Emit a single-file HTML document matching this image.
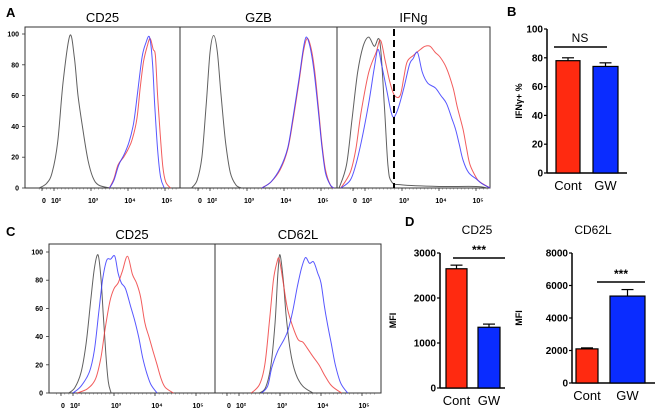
<!DOCTYPE html>
<html><head><meta charset="utf-8"><style>
body{margin:0;background:#fff;}
svg{display:block;font-family:"Liberation Sans",Arial,sans-serif;}
</style></head><body>
<svg id="fig" width="660" height="413" viewBox="0 0 660 413"></svg>
<script>
// ---- Histogram data: [log10 intensity, % of max] ----
const a1Black=[[1.6,0],[1.8,3],[1.95,10],[2.1,30],[2.25,70],[2.43,99],[2.55,85],[2.65,60],[2.78,38],[2.92,18],[3.05,7],[3.2,2],[3.5,0]];
const a1Red=[[3.5,0],[3.62,6],[3.73,15],[3.88,20],[4.0,25],[4.12,32],[4.24,45],[4.33,65],[4.42,82],[4.52,92],[4.6,97],[4.68,90],[4.74,86],[4.8,60],[4.87,35],[4.94,14],[5.02,4],[5.15,0]];
const a1Blue=[[3.5,0],[3.62,5],[3.75,15],[3.9,22],[4.03,30],[4.15,42],[4.26,62],[4.38,85],[4.48,94],[4.58,98],[4.66,82],[4.72,55],[4.8,25],[4.88,7],[4.98,0]];
const a2Black=[[1.5,0],[1.65,5],[1.78,20],[1.9,55],[2.0,88],[2.1,99],[2.2,88],[2.3,60],[2.42,30],[2.55,10],[2.7,2],[2.85,0]];
const a2Red=[[3.4,0],[3.65,4],[3.9,12],[4.1,25],[4.25,45],[4.4,68],[4.52,88],[4.62,97],[4.72,92],[4.82,78],[4.92,55],[5.02,30],[5.12,12],[5.25,2],[5.35,0]];
const a2Blue=[[3.4,0],[3.65,4],[3.9,13],[4.1,26],[4.25,47],[4.4,70],[4.52,90],[4.6,98],[4.7,92],[4.8,78],[4.92,52],[5.02,28],[5.12,10],[5.25,2],[5.35,0]];
const a3Black=[[1.3,0],[1.5,15],[1.65,45],[1.8,75],[1.95,92],[2.1,98],[2.25,92],[2.4,95],[2.52,55],[2.62,15],[2.72,4],[3.0,2],[4.0,1],[5.0,1],[5.3,0]];
const a3Red=[[1.35,0],[1.6,10],[1.75,25],[1.9,50],[2.1,75],[2.3,88],[2.42,96],[2.55,82],[2.68,68],[2.8,60],[2.95,60],[3.05,72],[3.14,82],[3.3,86],[3.5,90],[3.62,92],[3.76,92],[3.9,88],[4.03,85],[4.2,78],[4.38,65],[4.5,52],[4.65,38],[4.75,25],[4.84,15],[5.0,7],[5.1,4],[5.38,0]];
const a3Blue=[[1.35,0],[1.6,5],[1.75,15],[1.9,30],[2.1,55],[2.25,78],[2.35,90],[2.45,80],[2.6,62],[2.7,50],[2.78,46],[2.9,52],[3.05,65],[3.2,80],[3.3,84],[3.42,88],[3.55,75],[3.7,68],[3.9,65],[4.05,60],[4.2,55],[4.35,45],[4.45,38],[4.55,28],[4.65,18],[4.8,10],[5.0,6],[5.15,3],[5.38,0]];
const c1Black=[[1.9,0],[2.05,4],[2.2,15],[2.32,35],[2.43,65],[2.52,88],[2.61,98],[2.68,82],[2.74,55],[2.8,28],[2.86,8],[2.93,0]];
const c1Blue=[[2.0,0],[2.2,5],[2.4,15],[2.52,30],[2.62,55],[2.72,80],[2.82,94],[2.92,95],[3.02,97],[3.1,85],[3.18,78],[3.28,74],[3.4,62],[3.5,52],[3.6,40],[3.7,25],[3.8,14],[3.9,6],[4.05,0]];
const c1Red=[[2.1,0],[2.35,3],[2.55,10],[2.68,25],[2.78,45],[2.9,65],[3.0,74],[3.1,78],[3.2,86],[3.33,97],[3.45,84],[3.55,78],[3.65,68],[3.75,50],[3.85,40],[3.95,30],[4.05,20],[4.15,10],[4.25,4],[4.45,0]];
const c2Black=[[2.5,0],[2.65,4],[2.78,20],[2.88,50],[2.95,85],[3.0,98],[3.08,80],[3.15,55],[3.25,30],[3.38,14],[3.55,5],[3.8,0]];
const c2Red=[[2.3,0],[2.5,6],[2.63,20],[2.74,50],[2.84,80],[2.92,92],[2.98,95],[3.08,78],[3.18,60],[3.3,48],[3.44,38],[3.56,36],[3.66,32],[3.8,26],[3.95,20],[4.1,12],[4.26,5],[4.5,0]];
const c2Blue=[[2.55,0],[2.7,5],[2.8,18],[2.95,30],[3.1,38],[3.2,45],[3.31,58],[3.42,75],[3.52,88],[3.62,96],[3.72,92],[3.82,93],[3.92,85],[4.0,78],[4.08,62],[4.15,50],[4.25,35],[4.35,20],[4.48,7],[4.65,0]];
// ---- Bar data ----
const bCats=["Cont","GW"];
const bVals=[78,74];
const bErr=[2,2.5];
const bTicks=[0,20,40,60,80,100];
const dCd25Vals=[2650,1350];
const dCd25Err=[80,70];
const dCd25Ticks=[0,1000,2000,3000];
const dCd62Vals=[2100,5350];
const dCd62Err=[60,400];
const dCd62Ticks=[0,2000,4000,6000,8000];
const histTicks=["0","10²","10³","10⁴","10⁵"];
const pctTicks=[0,20,40,60,80,100];

const S=document.getElementById('fig');
const NS='http://www.w3.org/2000/svg';
function mk(tag,attrs,parent){const e=document.createElementNS(NS,tag);for(const k in attrs)e.setAttribute(k,attrs[k]);(parent||S).appendChild(e);return e;}
function txt(x,y,s,size,anchor,weight,parent){const t=mk('text',{x:x,y:y,'font-size':size,'text-anchor':anchor||'middle','font-weight':weight||'normal',fill:'#000'},parent);t.textContent=s;return t;}
function smoothPath(p){
  let d='M'+p[0][0].toFixed(1)+','+p[0][1].toFixed(1);
  for(let i=0;i<p.length-1;i++){
    const p0=p[i-1]||p[i],p1=p[i],p2=p[i+1],p3=p[i+2]||p2;
    const c1x=p1[0]+(p2[0]-p0[0])/6,c1y=p1[1]+(p2[1]-p0[1])/6;
    const c2x=p2[0]-(p3[0]-p1[0])/6,c2y=p2[1]-(p3[1]-p1[1])/6;
    d+=' C'+c1x.toFixed(1)+','+c1y.toFixed(1)+' '+c2x.toFixed(1)+','+c2y.toFixed(1)+' '+p2[0].toFixed(1)+','+p2[1].toFixed(1);
  }
  return d;
}

function histPanel(name,x0,x1,yTop,y0,y100,t2,dec,curves,title,showY){
  const g=mk('g',{});
  
  
  const xs=v=>t2+(v-2)*dec;
  const ys=v=>y0-(y0-y100)*v/100;
  const fr=mk('rect',{x:x0,y:yTop,width:x1-x0,height:y0-yTop,fill:'none',stroke:'#333','stroke-width':1},g);
  
  
  const tt=txt((x0+x1)/2,yTop-5,title,13,'middle','normal',g);
  
  
  const tickVals=[null,2,3,4,5];
  // minor ticks
  for(let v=1.6;v<=5.3;v+=0.1){const px=xs(v);if(px>x0+2&&px<x1-2)mk('line',{x1:px,y1:y0,x2:px,y2:y0+1.5,stroke:'#555','stroke-width':0.5},g);}
  histTicks.forEach((lab,i)=>{
    const px=i===0? xs(2)-12 : xs(tickVals[i]);
    mk('line',{x1:px,y1:y0,x2:px,y2:y0+3,stroke:'#333','stroke-width':0.8},g);
    const t=txt(px+2,y0+15,lab,7,'middle','bold',g);
    
    
  });
  if(showY){
    pctTicks.forEach(v=>{
      mk('line',{x1:x0-3,y1:ys(v),x2:x0,y2:ys(v),stroke:'#333','stroke-width':0.8},g);
      const t=txt(x0-6,ys(v)+2.5,String(v),7,'end','bold',g);
      
      
    });
  }
  curves.forEach(c=>{
    const pts=c.d.map(p=>[xs(p[0]),ys(p[1])]);
    const pl=mk('path',{d:smoothPath(pts),fill:'none',stroke:c.col,'stroke-width':1,'stroke-linejoin':'round','stroke-opacity':0.85},g);
    
    
  });
  return {g,xs,ys};
}

function barPanel(name,axX,yTopV,y0,yMaxPx,maxV,ticks,vals,errs,bars,axEnd,ylab,ylabX){
  const g=mk('g',{});
  
  
  const ys=v=>y0-(y0-yMaxPx)*v/maxV;
  mk('line',{x1:axX,y1:ys(maxV),x2:axX,y2:y0,stroke:'#000','stroke-width':1.5},g);
  mk('line',{x1:axX,y1:y0,x2:axEnd,y2:y0,stroke:'#000','stroke-width':1.5},g);
  ticks.forEach(v=>{
    mk('line',{x1:axX-3,y1:ys(v),x2:axX,y2:ys(v),stroke:'#000','stroke-width':1.2},g);
    const t=txt(axX-4,ys(v)+3.5,String(v),10,'end','bold',g);
    
    
  });
  vals.forEach((v,i)=>{
    const b=bars[i];
    const cx=(b.x1+b.x2)/2;
    mk('line',{x1:cx,y1:ys(v+errs[i]),x2:cx,y2:ys(v),stroke:'#000','stroke-width':1.2},g);
    mk('line',{x1:cx-6,y1:ys(v+errs[i]),x2:cx+6,y2:ys(v+errs[i]),stroke:'#000','stroke-width':1.2},g);
    const r=mk('rect',{x:b.x1,y:ys(v),width:b.x2-b.x1,height:y0-ys(v),fill:b.col,stroke:'#000','stroke-width':1.2},g);
    
    
    const t=txt(cx,y0+17,bCats[i],13,'middle','normal',g);
    
    
  });
  if(ylab){
    const t=mk('text',{x:ylabX,y:(ys(maxV)+y0)/2,'font-size':9,'font-weight':'bold','text-anchor':'middle',transform:'rotate(-90 '+ylabX+' '+(ys(maxV)+y0)/2+')'},g);
    t.textContent=ylab;
    
    
  }
  return {g,ys};
}

[['A',6,17],['B',507,16],['C',6,236],['D',405,226]].forEach(p=>{
  const t=txt(p[1],p[2],p[0],13,'start','bold');
  
  
});

const red='#f04040', blue='#3a3aff', blk='#444';
histPanel('hist-a-cd25',25,180,27,188,34,54,37,[{d:a1Black,col:blk,n:'curve-control'},{d:a1Red,col:red,n:'curve-cont'},{d:a1Blue,col:blue,n:'curve-gw'}],'CD25',true);
histPanel('hist-a-gzb',180,337,27,188,34,210,37,[{d:a2Black,col:blk,n:'curve-control'},{d:a2Red,col:red,n:'curve-cont'},{d:a2Blue,col:blue,n:'curve-gw'}],'GZB',false);
histPanel('hist-a-ifng',337,490,27,188,34,365,37,[{d:a3Black,col:blk,n:'curve-control'},{d:a3Red,col:red,n:'curve-cont'},{d:a3Blue,col:blue,n:'curve-gw'}],'IFNg',false);
const dl=mk('line',{x1:394,y1:29,x2:394,y2:188,stroke:'#000','stroke-width':2,'stroke-dasharray':'7,4'});



histPanel('hist-c-cd25',49,215,244,393,252,73,41,[{d:c1Black,col:blk,n:'curve-control'},{d:c1Blue,col:blue,n:'curve-gw'},{d:c1Red,col:red,n:'curve-cont'}],'CD25',true);
histPanel('hist-c-cd62l',215,381,244,393,252,239,41,[{d:c2Black,col:blk,n:'curve-control'},{d:c2Red,col:red,n:'curve-cont'},{d:c2Blue,col:blue,n:'curve-gw'}],'CD62L',false);

const bRed='#ff2a10', bBlue='#0a2cff';
barPanel('bar-chart-b',547,0,173,29,100,bTicks,bVals,bErr,[{x1:556,x2:580,col:bRed},{x1:593,x2:618,col:bBlue}],627,'IFNγ+ %',522);
mk('line',{x1:554,y1:47,x2:607,y2:47,stroke:'#000','stroke-width':1.5});
{const t=txt(580,42,'NS',12,'middle','normal');}

barPanel('bar-chart-d-cd25',440,0,388,253,3000,dCd25Ticks,dCd25Vals,dCd25Err,[{x1:446,x2:467,col:bRed},{x1:478,x2:500,col:bBlue}],505,'MFI',396);
mk('line',{x1:453,y1:258,x2:505,y2:258,stroke:'#000','stroke-width':1.5});
{const t=txt(479,254,'***',12,'middle','bold');}
{const t=txt(477,234,'CD25',12);}
barPanel('bar-chart-d-cd62l',572,0,383,253,8000,dCd62Ticks,dCd62Vals,dCd62Err,[{x1:576,x2:598,col:bRed},{x1:610,x2:645,col:bBlue}],655,'MFI',522);
mk('line',{x1:597,y1:282,x2:645,y2:282,stroke:'#000','stroke-width':1.5});
{const t=txt(621,278,'***',12,'middle','bold');}
{const t=txt(593,234,'CD62L',12);}
</script>
</body></html>
